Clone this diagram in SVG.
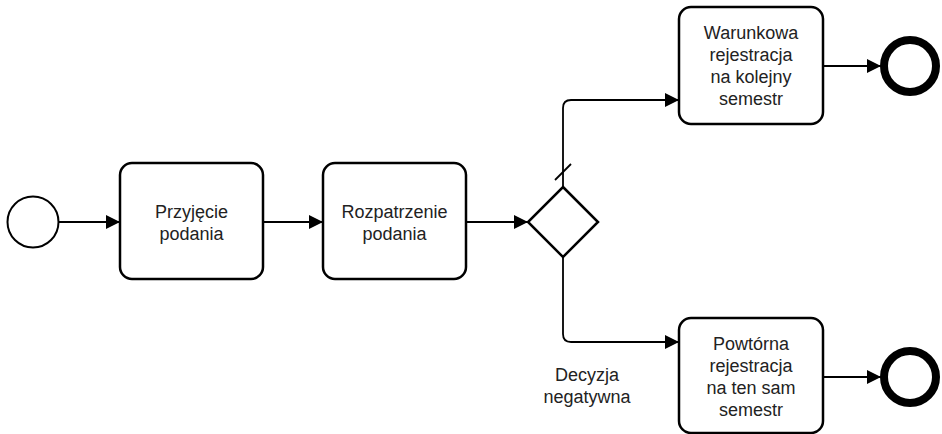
<svg xmlns="http://www.w3.org/2000/svg" width="942" height="434" viewBox="0 0 942 434">
<style>
.task{fill:#fff;stroke:#000;stroke-width:2.5}
.conn{fill:none;stroke:#000;stroke-width:1.8}
text{font-family:"Liberation Sans",Arial,sans-serif;font-size:18px;fill:#222;text-anchor:middle}
</style>
<defs>
<marker id="arr" viewBox="0 0 14 14" refX="14" refY="7" markerWidth="14" markerHeight="14" markerUnits="userSpaceOnUse" orient="auto">
<path d="M0,0 L14,7 L0,14 Z" fill="#000"/>
</marker>
</defs>
<rect width="942" height="434" fill="#fff"/>
<g id="connectors">
<line class="conn" x1="59" y1="222" x2="120" y2="222" marker-end="url(#arr)"/>
<line class="conn" x1="263" y1="222" x2="323" y2="222" marker-end="url(#arr)"/>
<line class="conn" x1="466" y1="222" x2="528" y2="222" marker-end="url(#arr)"/>
<path class="conn" d="M563,187 V108 Q563,100 571,100 H679" marker-end="url(#arr)"/>
<line class="conn" x1="555" y1="180" x2="571" y2="164"/>
<path class="conn" d="M563,257 V334 Q563,342 571,342 H679" marker-end="url(#arr)"/>
<line class="conn" x1="823" y1="66" x2="881" y2="66" marker-end="url(#arr)"/>
<line class="conn" x1="823" y1="377" x2="881" y2="377" marker-end="url(#arr)"/>
</g>
<g id="start">
<circle cx="33" cy="222" r="25.5" fill="#fff" stroke="#000" stroke-width="2"/>
</g>
<g id="task1">
<rect class="task" x="120" y="163" width="143" height="116" rx="12"/>
<text x="191.5" y="218">Przyjęcie</text>
<text x="191.5" y="240">podania</text>
</g>
<g id="task2">
<rect class="task" x="323" y="163" width="143" height="116" rx="12"/>
<text x="394.5" y="218">Rozpatrzenie</text>
<text x="394.5" y="240">podania</text>
</g>
<g id="gateway">
<path d="M563,187 L598,222 L563,257 L528,222 Z" fill="#fff" stroke="#000" stroke-width="2.5"/>
</g>
<g id="task3">
<rect class="task" x="679" y="7" width="144" height="117" rx="12"/>
<text x="751" y="39">Warunkowa</text>
<text x="751" y="61">rejestracja</text>
<text x="751" y="83">na kolejny</text>
<text x="751" y="105">semestr</text>
</g>
<g id="end1">
<circle cx="910" cy="66" r="26" fill="#fff" stroke="#000" stroke-width="8"/>
</g>
<g id="task4">
<rect class="task" x="679" y="318" width="144" height="115" rx="12"/>
<text x="751" y="350">Powtórna</text>
<text x="751" y="372">rejestracja</text>
<text x="751" y="394">na ten sam</text>
<text x="751" y="416">semestr</text>
</g>
<g id="end2">
<circle cx="910" cy="377" r="26" fill="#fff" stroke="#000" stroke-width="8"/>
</g>
<g id="label">
<text x="587" y="381">Decyzja</text>
<text x="587" y="403">negatywna</text>
</g>
</svg>
